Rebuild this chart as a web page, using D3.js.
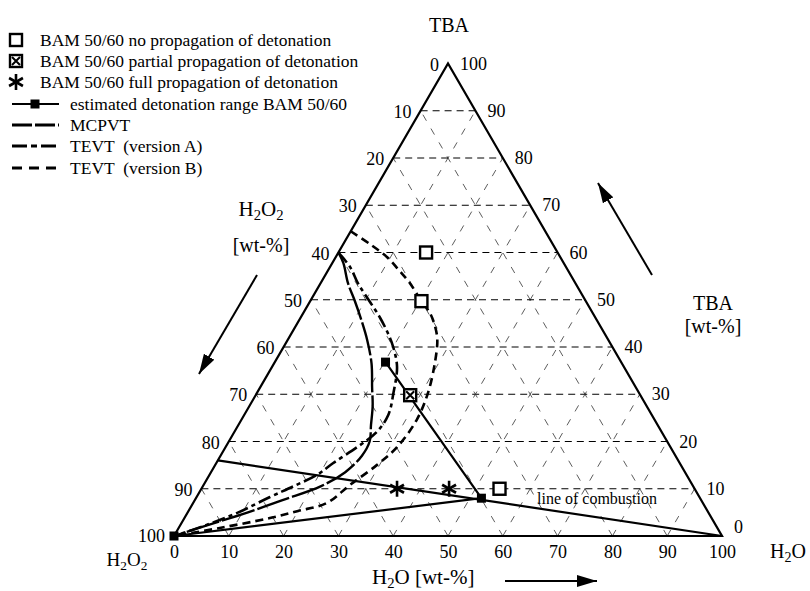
<!DOCTYPE html>
<html>
<head>
<meta charset="utf-8">
<script src="https://cdn.jsdelivr.net/npm/d3@7"></script>
<style>
body { margin: 0; background: #fff; }
svg text { font-family: "Liberation Serif", "Times New Roman", serif; fill: #000; }
</style>
</head>
<body>
<div id="chart"></div>
<script>
// all points are [H2O wt-%, TBA wt-%], H2O2 = 100 - H2O - TBA
const ticks = [0, 10, 20, 30, 40, 50, 60, 70, 80, 90, 100];
const noProp = [[16, 60], [20.3, 49.7], [54.4, 10]];
const partialProp = [[28.2, 29.8]];
const fullProp = [[35.7, 10], [45.2, 10]];
const detRange = [[20.2, 36.8], [52.1, 8], [0, 0]];
const combustion = [[0, 16], [100, 0]];
const mcpvt = [[0, 60], [2, 57.8], [5, 53.5], [8, 49.9], [11.5, 45.5], [14.5, 41.5], [17.8, 36.5],
  [20.4, 31.5], [22.5, 27.5], [24.2, 23.5], [25.7, 20], [25.8, 17], [24.5, 13.5], [21.5, 10.5],
  [16, 7.6], [11, 5], [5, 2.3], [0, 0]];
const tevtA = [[0, 60], [3.7, 56.9], [6.8, 53.5], [10.5, 50], [14.4, 46.3], [17.5, 43], [20, 40],
  [22.8, 35.8], [24.9, 30.3], [26.3, 25.6], [26, 22], [24, 18.8], [21.3, 15.4], [19.6, 12.9],
  [16.5, 10.5], [13.4, 8.25], [9.1, 4.9], [4.5, 2.2], [0, 0]];
const tevtB = [[0, 64.5], [5, 61.7], [9.4, 59], [13, 56.2], [16.3, 53.5], [20.3, 49.7], [23.1, 47.2],
  [25.5, 44.3], [27.3, 41.5], [29.3, 36.6], [31.2, 30.3], [32, 24.6], [31.3, 18.8], [29.5, 15],
  [26.7, 10.8], [24.4, 7], [20, 5.3], [15.6, 3.8], [7.5, 1.7], [0, 0]];

const legendItems = ["BAM 50/60 no propagation of detonation",
  "BAM 50/60 partial propagation of detonation",
  "BAM 50/60 full propagation of detonation",
  "estimated detonation range BAM 50/60",
  "MCPVT", "TEVT  (version A)", "TEVT  (version B)"];

const width = 810, height = 591;

const svg = d3.select("#chart")
  .append("svg")
  .attr("width", width)
  .attr("height", height);

// x scale takes H2O + TBA/2, y scale takes TBA
const x = d3.scaleLinear().domain([0, 100]).range([174, 722]);
const y = d3.scaleLinear().domain([0, 100]).range([536, 63.5]);
const px = d => x(d[0] + d[1] / 2);
const py = d => y(d[1]);

const line = d3.line().x(px).y(py);
const curve = d3.line().x(px).y(py).curve(d3.curveCatmullRom.alpha(0.5));

// gridlines
const grid = svg.append("g");
ticks.slice(1, -1).forEach(k => {
  // constant TBA
  grid.append("path").attr("d", line([[0, k], [100 - k, k]]))
    .attr("stroke", "#000").attr("stroke-width", 1).attr("stroke-dasharray", "7,5").attr("fill", "none");
  // constant H2O
  grid.append("path").attr("d", line([[k, 0], [k, 100 - k]]))
    .attr("stroke", "#333").attr("stroke-width", 0.8).attr("stroke-dasharray", "7,9").attr("fill", "none");
  // constant H2O2
  grid.append("path").attr("d", line([[100 - k, 0], [0, 100 - k]]))
    .attr("stroke", "#333").attr("stroke-width", 0.8).attr("stroke-dasharray", "7,9").attr("fill", "none");
});

// triangle
svg.append("path")
  .attr("d", line([[0, 0], [100, 0], [0, 100], [0, 0]]))
  .attr("fill", "none").attr("stroke", "#000").attr("stroke-width", 2.2)
  .attr("stroke-linejoin", "miter");

// bottom axis labels (H2O)
const xb = d3.scaleLinear().domain([0, 100]).range([x(0), x(100)]);
const axis = svg.append("g")
  .attr("transform", "translate(0,536)")
  .call(d3.axisBottom(xb).tickValues(ticks).tickSize(0).tickPadding(9).tickFormat(d3.format("d")));
axis.select(".domain").remove();
axis.selectAll("text").attr("font-size", 18).attr("font-family", null);

// left labels (H2O2) and right labels (TBA)
svg.append("g").selectAll("text")
  .data(ticks)
  .join("text")
  .attr("x", t => px([0, 100 - t]) - 9)
  .attr("y", t => py([0, 100 - t]) + (t === 100 ? 6 : 7))
  .attr("text-anchor", "end")
  .attr("font-size", 18)
  .text(t => t);

svg.append("g").selectAll("text")
  .data(ticks)
  .join("text")
  .attr("x", t => px([100 - t, t]) + 12)
  .attr("y", t => py([100 - t, t]) + (t === 0 ? -3 : 6))
  .attr("font-size", 18)
  .text(t => t);

// line of combustion and detonation range
svg.append("path").attr("d", line(combustion))
  .attr("fill", "none").attr("stroke", "#000").attr("stroke-width", 2.2);
svg.append("path").attr("d", line(detRange))
  .attr("fill", "none").attr("stroke", "#000").attr("stroke-width", 2.2);

// curves
svg.append("path").attr("d", curve(mcpvt))
  .attr("fill", "none").attr("stroke", "#000").attr("stroke-width", 2.4)
  .attr("stroke-dasharray", "34,3");
svg.append("path").attr("d", curve(tevtA))
  .attr("fill", "none").attr("stroke", "#000").attr("stroke-width", 2.6)
  .attr("stroke-dasharray", "13,4,4,4");
svg.append("path").attr("d", curve(tevtB))
  .attr("fill", "none").attr("stroke", "#000").attr("stroke-width", 2.6)
  .attr("stroke-dasharray", "8,5");

// markers
function openSquare(g, cx, cy) {
  g.append("rect").attr("x", cx - 6).attr("y", cy - 6).attr("width", 12).attr("height", 12)
    .attr("fill", "#fff").attr("stroke", "#000").attr("stroke-width", 2.4);
}
function crossSquare(g, cx, cy) {
  openSquare(g, cx, cy);
  g.append("path").attr("d", `M${cx - 4},${cy - 4}L${cx + 4},${cy + 4}M${cx + 4},${cy - 4}L${cx - 4},${cy + 4}`)
    .attr("stroke", "#000").attr("stroke-width", 2);
}
function star(g, cx, cy) {
  const r = 8;
  [90, 30, 150].forEach(a => {
    const dx = r * Math.cos(a * Math.PI / 180), dy = r * Math.sin(a * Math.PI / 180);
    g.append("line").attr("x1", cx - dx).attr("y1", cy - dy).attr("x2", cx + dx).attr("y2", cy + dy)
      .attr("stroke", "#000").attr("stroke-width", 2.6);
  });
}
function filledSquare(g, cx, cy) {
  g.append("rect").attr("x", cx - 4.5).attr("y", cy - 4.5).attr("width", 9).attr("height", 9).attr("fill", "#000");
}

const marks = svg.append("g");
noProp.forEach(d => openSquare(marks, px(d), py(d)));
partialProp.forEach(d => crossSquare(marks, px(d), py(d)));
fullProp.forEach(d => star(marks, px(d), py(d)));
detRange.forEach(d => filledSquare(marks, px(d), py(d)));

// line of combustion label
svg.append("text").attr("x", 537).attr("y", 504).attr("font-size", 16).text("line of combustion");

// titles, parts are plain strings or ["2"] for a subscript
function chem(g, xx, yy, parts, size, anchor) {
  const t = g.append("text").attr("x", xx).attr("y", yy).attr("font-size", size).attr("text-anchor", anchor || "middle");
  let shift = 0;
  parts.forEach(p => {
    if (typeof p !== "string") {
      t.append("tspan").attr("font-size", size * 0.7).attr("dy", 4 - shift).text(p[0]);
      shift = 4;
    } else {
      t.append("tspan").attr("dy", -shift).text(p);
      shift = 0;
    }
  });
  return t;
}
svg.append("text").attr("x", 449).attr("y", 32).attr("text-anchor", "middle").attr("font-size", 20).text("TBA");
chem(svg, 261, 216, ["H", ["2"], "O", ["2"]], 21);
svg.append("text").attr("x", 261).attr("y", 252).attr("text-anchor", "middle").attr("font-size", 20).text("[wt-%]");
svg.append("text").attr("x", 713).attr("y", 310).attr("text-anchor", "middle").attr("font-size", 20).text("TBA");
svg.append("text").attr("x", 713).attr("y", 333).attr("text-anchor", "middle").attr("font-size", 20).text("[wt-%]");
chem(svg, 788, 558, ["H", ["2"], "O"], 20);
chem(svg, 127, 566, ["H", ["2"], "O", ["2"]], 19);
chem(svg, 372, 584, ["H", ["2"], "O [wt-%]"], 21, "start");

// arrows
svg.append("defs").append("marker")
  .attr("id", "ah").attr("viewBox", "0 0 20 12").attr("refX", 20).attr("refY", 6)
  .attr("markerWidth", 20).attr("markerHeight", 12).attr("markerUnits", "userSpaceOnUse")
  .attr("orient", "auto")
  .append("path").attr("d", "M0,0L20,6L0,12Z").attr("fill", "#000");
[[257, 275, 199, 374], [652, 275, 598, 183], [505, 581, 597, 581]].forEach(a => {
  svg.append("line").attr("x1", a[0]).attr("y1", a[1]).attr("x2", a[2]).attr("y2", a[3])
    .attr("stroke", "#000").attr("stroke-width", 2).attr("marker-end", "url(#ah)");
});

// legend
const rowY = [40, 61, 82, 104, 125, 146, 168];
const leg = svg.append("g");
openSquare(leg, 16, rowY[0]);
crossSquare(leg, 16, rowY[1]);
star(leg, 16, rowY[2]);
leg.append("line").attr("x1", 12).attr("x2", 59).attr("y1", rowY[3]).attr("y2", rowY[3])
  .attr("stroke", "#000").attr("stroke-width", 2.2);
filledSquare(leg, 35, rowY[3]);
const dashes = [null, null, null, null, "20,3", "15,4,6,4", "10,7"];
[4, 5, 6].forEach(i => {
  leg.append("line").attr("x1", 12).attr("x2", 59).attr("y1", rowY[i]).attr("y2", rowY[i])
    .attr("stroke", "#000").attr("stroke-width", 2.8).attr("stroke-dasharray", dashes[i]);
});
leg.selectAll("text")
  .data(legendItems)
  .join("text")
  .attr("x", (d, i) => i < 3 ? 40 : 70)
  .attr("y", (d, i) => rowY[i] + 6)
  .attr("font-size", 17.5)
  .style("white-space", "pre")
  .text(d => d);
</script>
</body>
</html>
